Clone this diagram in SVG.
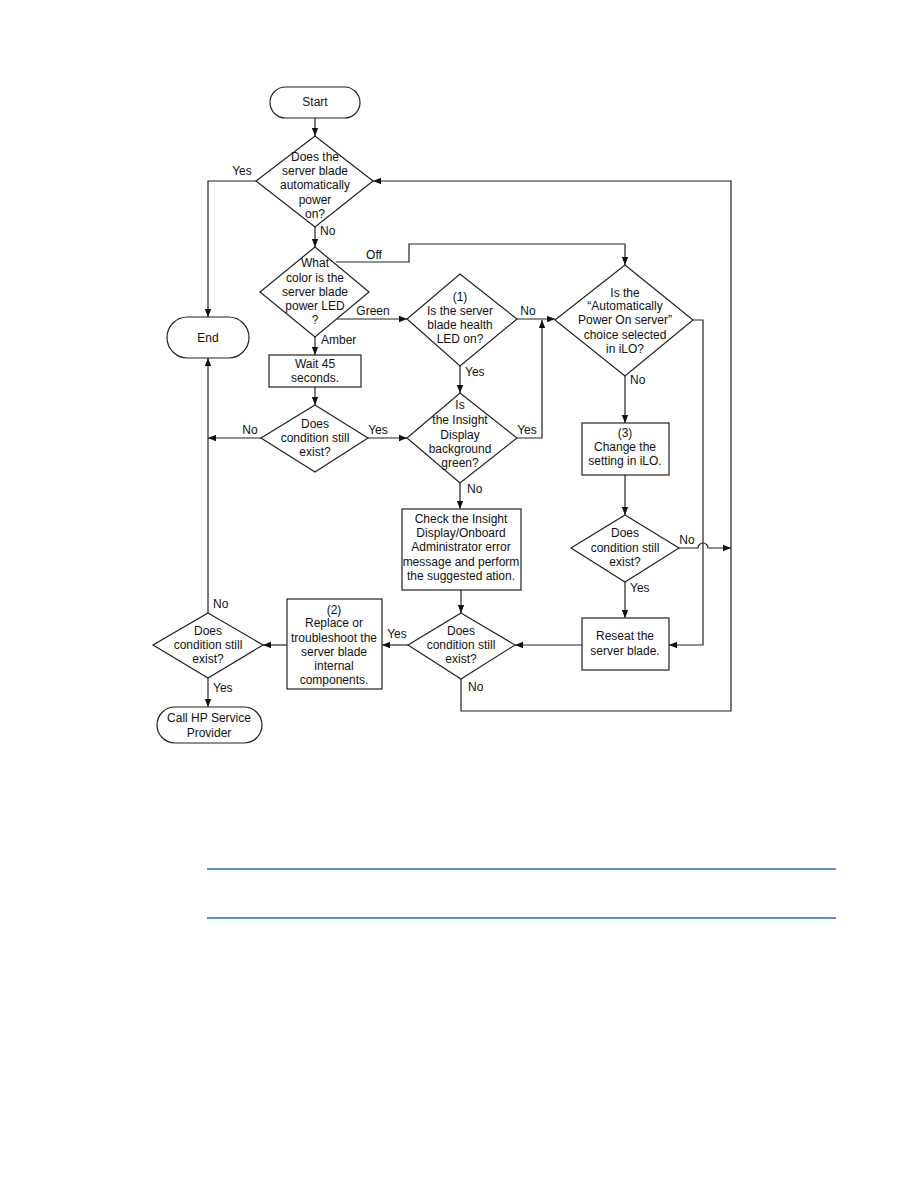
<svg xmlns="http://www.w3.org/2000/svg" width="918" height="1188" viewBox="0 0 918 1188">
<style>
.s{fill:#fff;stroke:#222;stroke-width:1.2}
.c{fill:none;stroke:#222;stroke-width:1.2}
text{font-family:"Liberation Sans",Arial,sans-serif;font-size:12px;fill:#111}
.m{text-anchor:middle}
.b{stroke:#2a6db5;stroke-width:1.3}
</style>
<defs>
<marker id="a" viewBox="0 0 10 10" refX="10" refY="5" markerWidth="8" markerHeight="8" markerUnits="userSpaceOnUse" orient="auto">
<path d="M0,1 L10,5 L0,9 Z" fill="#111"/>
</marker>
</defs>
<rect width="918" height="1188" fill="#fff"/>

<g id="connectors">
<path class="c" d="M315,118 V136" marker-end="url(#a)"/>
<path class="c" d="M256,181 H208 V317" marker-end="url(#a)"/>
<path class="c" d="M315,227 V247" marker-end="url(#a)"/>
<path class="c" d="M336,262 H409 V244 H625 V265" marker-end="url(#a)"/>
<path class="c" d="M337,319 H407" marker-end="url(#a)"/>
<path class="c" d="M315,337 V355" marker-end="url(#a)"/>
<path class="c" d="M315,387 V405" marker-end="url(#a)"/>
<path class="c" d="M261,438 H208" marker-end="url(#a)"/>
<path class="c" d="M368,438 H407" marker-end="url(#a)"/>
<path class="c" d="M460,366 V393" marker-end="url(#a)"/>
<path class="c" d="M517,319 H555" marker-end="url(#a)"/>
<path class="c" d="M517,438 H542 V320" marker-end="url(#a)"/>
<path class="c" d="M625,376 V423" marker-end="url(#a)"/>
<path class="c" d="M693,320 H703 V645 H669" marker-end="url(#a)"/>
<path class="c" d="M625,475 V515" marker-end="url(#a)"/>
<path class="c" d="M679,548 H698 A5,5 0 0 1 708,548 H731" marker-end="url(#a)"/>
<path class="c" d="M625,582 V618" marker-end="url(#a)"/>
<path class="c" d="M582,645 H515" marker-end="url(#a)"/>
<path class="c" d="M460,483 V509" marker-end="url(#a)"/>
<path class="c" d="M461,590 V613" marker-end="url(#a)"/>
<path class="c" d="M408,645 H382" marker-end="url(#a)"/>
<path class="c" d="M461,679 V711 H731 V181 H373" marker-end="url(#a)"/>
<path class="c" d="M287,645 H263" marker-end="url(#a)"/>
<path class="c" d="M208,613 V358" marker-end="url(#a)"/>
<path class="c" d="M208,678 V707" marker-end="url(#a)"/>
<text class="m" x="242" y="175">Yes</text>
<text x="320" y="235">No</text>
<text class="m" x="374" y="259">Off</text>
<text class="m" x="373" y="315">Green</text>
<text x="321" y="344">Amber</text>
<text class="m" x="528" y="315">No</text>
<text x="465" y="376">Yes</text>
<text x="630" y="384">No</text>
<text class="m" x="250" y="434">No</text>
<text class="m" x="378" y="434">Yes</text>
<text class="m" x="527" y="434">Yes</text>
<text x="467" y="493">No</text>
<text class="m" x="687" y="544">No</text>
<text x="630" y="592">Yes</text>
<text class="m" x="397" y="638">Yes</text>
<text x="468" y="691">No</text>
<text x="213" y="608">No</text>
<text x="213" y="692">Yes</text>
</g>

<g id="start">
<rect class="s" x="270" y="87" width="90" height="31" rx="15.5"/>
<text class="m" x="315" y="106">Start</text>
</g>

<g id="auto-power">
<polygon class="s" points="315,136 373,181 315,227 256,181"/>
<text class="m" x="315" y="161">Does the</text>
<text class="m" x="315" y="175">server blade</text>
<text class="m" x="315" y="189">automatically</text>
<text class="m" x="315" y="204">power</text>
<text class="m" x="315" y="218">on?</text>
</g>

<g id="end">
<rect class="s" x="167" y="317" width="82" height="41" rx="20.5"/>
<text class="m" x="208" y="342">End</text>
</g>

<g id="led-color">
<polygon class="s" points="315,247 369,292 315,337 260,292"/>
<text class="m" x="315" y="267">What</text>
<text class="m" x="315" y="282">color is the</text>
<text class="m" x="315" y="296">server blade</text>
<text class="m" x="315" y="310">power LED</text>
<text class="m" x="315" y="324">?</text>
</g>

<g id="health-led">
<polygon class="s" points="460,274 517,319 460,366 407,319"/>
<text class="m" x="460" y="301">(1)</text>
<text class="m" x="460" y="315">Is the server</text>
<text class="m" x="460" y="329">blade health</text>
<text class="m" x="460" y="343">LED on?</text>
</g>

<g id="auto-power-ilo">
<polygon class="s" points="625,265 693,320 625,376 555,320"/>
<text class="m" x="625" y="297">Is the</text>
<text class="m" x="625" y="310">“Automatically</text>
<text class="m" x="625" y="324">Power On server”</text>
<text class="m" x="625" y="339">choice selected</text>
<text class="m" x="625" y="353">in iLO?</text>
</g>

<g id="wait">
<rect class="s" x="269" y="355" width="92" height="32"/>
<text class="m" x="315" y="368">Wait 45</text>
<text class="m" x="315" y="382">seconds.</text>
</g>

<g id="condition-1">
<polygon class="s" points="315,405 368,438 315,472 261,438"/>
<text class="m" x="315" y="428">Does</text>
<text class="m" x="315" y="442">condition still</text>
<text class="m" x="315" y="456">exist?</text>
</g>

<g id="insight-green">
<polygon class="s" points="460,393 517,438 460,483 407,438"/>
<text class="m" x="460" y="409">Is</text>
<text class="m" x="460" y="424">the Insight</text>
<text class="m" x="460" y="439">Display</text>
<text class="m" x="460" y="453">background</text>
<text class="m" x="460" y="467">green?</text>
</g>

<g id="change-ilo">
<rect class="s" x="582" y="423" width="87" height="52"/>
<text class="m" x="625" y="437">(3)</text>
<text class="m" x="625" y="451">Change the</text>
<text class="m" x="625" y="465">setting in iLO.</text>
</g>

<g id="check-insight">
<rect class="s" x="402" y="509" width="119" height="81"/>
<text class="m" x="461" y="523">Check the Insight</text>
<text class="m" x="461" y="537">Display/Onboard</text>
<text class="m" x="461" y="551">Administrator error</text>
<text class="m" x="461" y="566">message and perform</text>
<text class="m" x="461" y="580">the suggested ation.</text>
</g>

<g id="condition-3">
<polygon class="s" points="625,515 679,548 625,582 571,548"/>
<text class="m" x="625" y="537">Does</text>
<text class="m" x="625" y="552">condition still</text>
<text class="m" x="625" y="566">exist?</text>
</g>

<g id="reseat">
<rect class="s" x="582" y="618" width="87" height="52"/>
<text class="m" x="625" y="640">Reseat the</text>
<text class="m" x="625" y="655">server blade.</text>
</g>

<g id="condition-2">
<polygon class="s" points="461,613 515,645 461,679 408,645"/>
<text class="m" x="461" y="635">Does</text>
<text class="m" x="461" y="649">condition still</text>
<text class="m" x="461" y="663">exist?</text>
</g>

<g id="replace">
<rect class="s" x="287" y="599" width="95" height="90"/>
<text class="m" x="334" y="614">(2)</text>
<text class="m" x="334" y="627">Replace or</text>
<text class="m" x="334" y="642">troubleshoot the</text>
<text class="m" x="334" y="656">server blade</text>
<text class="m" x="334" y="670">internal</text>
<text class="m" x="334" y="684">components.</text>
</g>

<g id="condition-4">
<polygon class="s" points="208,613 263,645 208,678 153,645"/>
<text class="m" x="208" y="635">Does</text>
<text class="m" x="208" y="649">condition still</text>
<text class="m" x="208" y="663">exist?</text>
</g>

<g id="call-hp">
<rect class="s" x="157" y="707" width="105" height="36" rx="18"/>
<text class="m" x="209" y="722">Call HP Service</text>
<text class="m" x="209" y="737">Provider</text>
</g>

<line class="b" x1="207" y1="869" x2="836" y2="869"/>
<line class="b" x1="207" y1="918" x2="836" y2="918"/>
</svg>
